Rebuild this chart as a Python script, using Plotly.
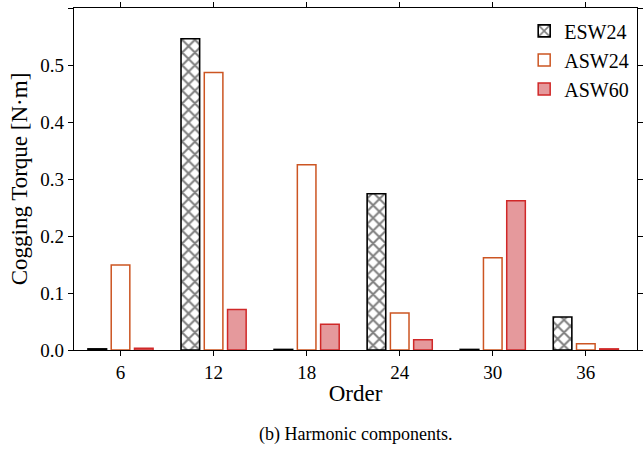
import plotly.graph_objects as go

# Harmonic orders and cogging-torque amplitudes (N·m)
orders = ["6", "12", "18", "24", "30", "36"]
esw24 = [0.002, 0.546, 0.001, 0.274, 0.001, 0.058]
asw24 = [0.149, 0.487, 0.325, 0.065, 0.162, 0.011]
asw60 = [0.003, 0.071, 0.045, 0.018, 0.262, 0.002]

y_ticks = [0.0, 0.1, 0.2, 0.3, 0.4, 0.5, 0.6]

serif = "Liberation Serif"

fig = go.Figure()
fig.add_trace(go.Bar(
    name="ESW24", x=orders, y=esw24,
    marker=dict(color="white",
                line=dict(color="black", width=1.6),
                pattern=dict(shape="x", fgcolor="black", bgcolor="white",
                             size=9, solidity=0.4)),
))
fig.add_trace(go.Bar(
    name="ASW24", x=orders, y=asw24,
    marker=dict(color="white", line=dict(color="#CC5522", width=1.5)),
))
fig.add_trace(go.Bar(
    name="ASW60", x=orders, y=asw60,
    marker=dict(color="#E5999C", line=dict(color="#D02828", width=1.5)),
))

fig.update_layout(
    width=644, height=453,
    margin=dict(l=74, r=1, t=8, b=103),
    paper_bgcolor="white", plot_bgcolor="white",
    barmode="group", bargap=0.25, bargroupgap=0.2,
    font=dict(family=serif, color="black"),
    legend=dict(x=0.995, y=0.99, xanchor="right", yanchor="top",
                font=dict(size=20, family=serif),
                bgcolor="rgba(255,255,255,0)", tracegroupgap=0,
                itemwidth=30),
    showlegend=True,
)

fig.update_xaxes(
    range=[-0.5, 5.55],
    title=dict(text="Order", font=dict(size=23, family=serif), standoff=2),
    tickfont=dict(size=19, family=serif),
    ticks="outside", ticklen=5, tickwidth=1, tickcolor="black",
    showline=True, linecolor="black", linewidth=1.2, mirror="ticks",
    showgrid=False, zeroline=False,
)
fig.update_yaxes(
    range=[0, 0.6], tickvals=y_ticks, ticktext=[f"{v:.1f}" for v in y_ticks],
    title=dict(text="Cogging Torque [N·m]", font=dict(size=23, family=serif), standoff=6),
    tickfont=dict(size=19, family=serif),
    ticks="outside", ticklen=5, tickwidth=1, tickcolor="black",
    showline=True, linecolor="black", linewidth=1.2, mirror="ticks",
    showgrid=False, zeroline=False,
)

fig.add_annotation(
    text="(b) Harmonic components.", xref="paper", yref="paper",
    x=0.5, y=-0.21, xanchor="center", yanchor="top", showarrow=False,
    font=dict(size=18, family=serif),
)

fig.write_html("out.html")
